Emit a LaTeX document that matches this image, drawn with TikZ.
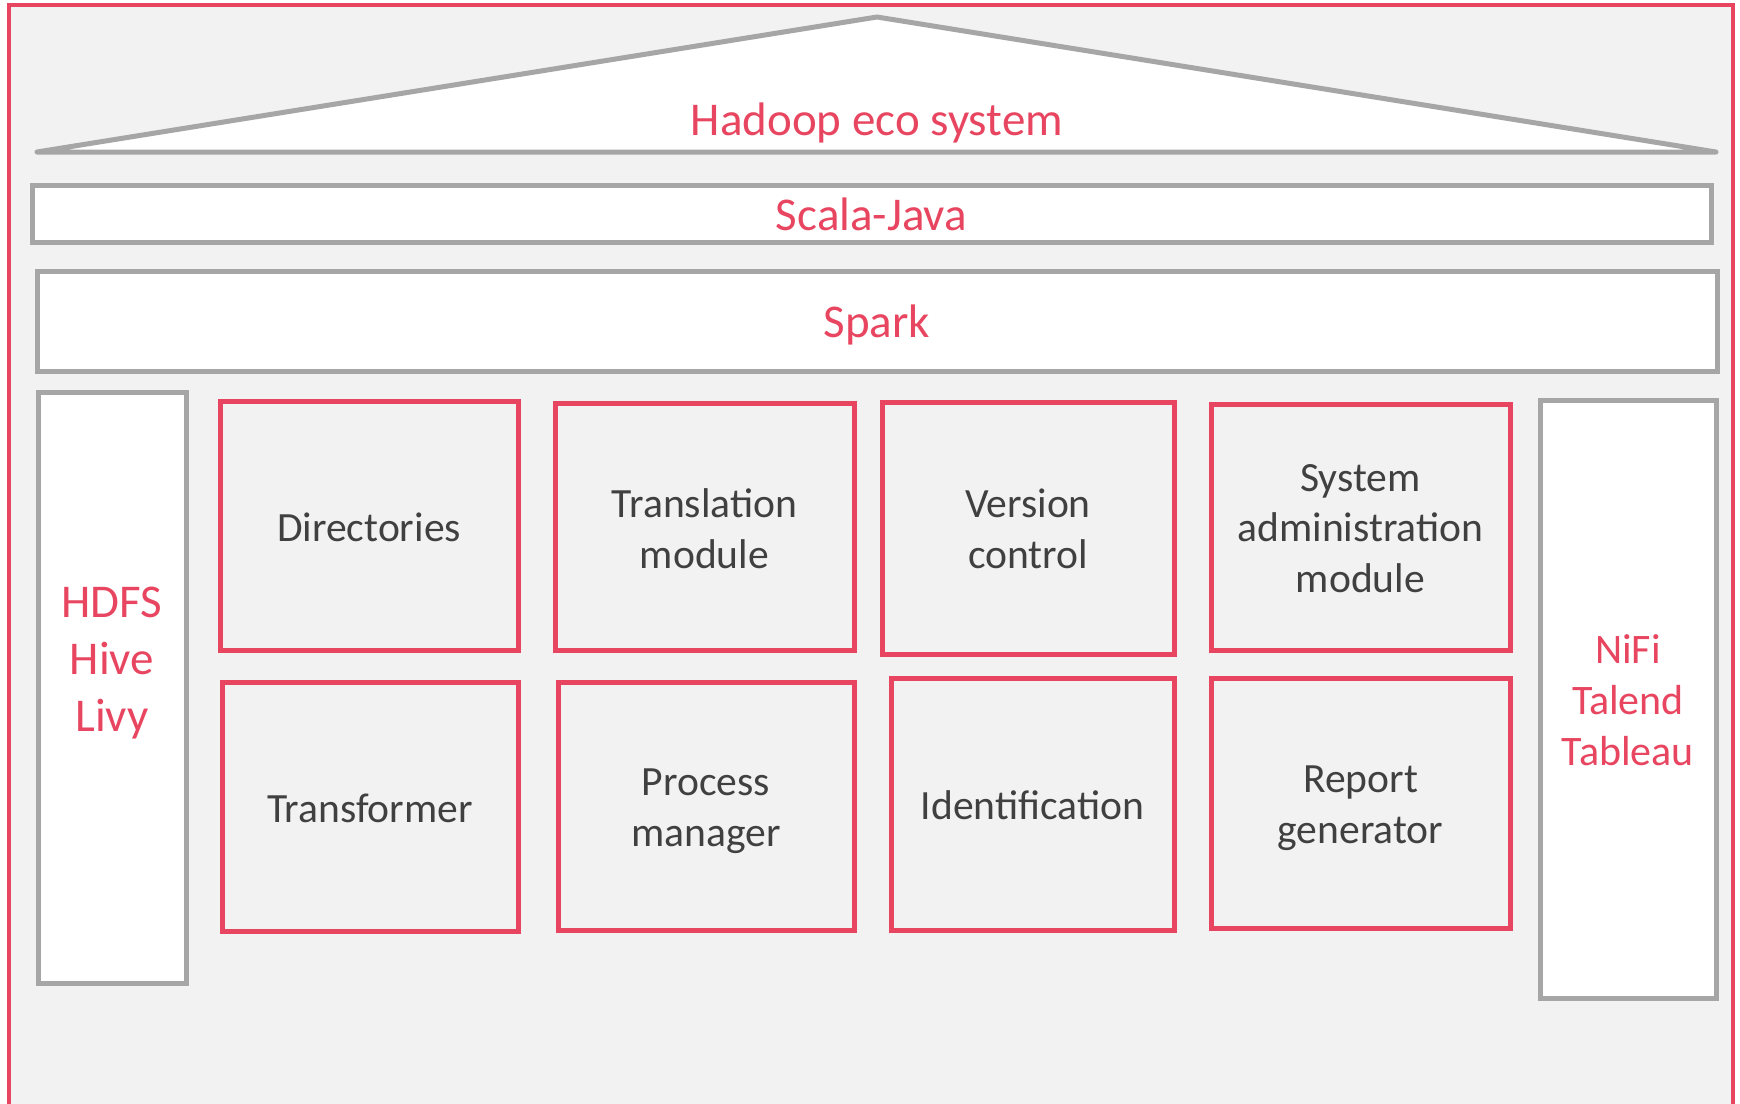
\documentclass[tikz,border=0pt]{standalone}
\usepackage{fontspec}
\setmainfont{Carlito}
\definecolor{hred}{HTML}{E84660}
\definecolor{hgray}{HTML}{A6A6A6}
\definecolor{hbg}{HTML}{F2F2F2}
\definecolor{htext}{HTML}{404040}
\tikzset{
  graybox/.style={draw=hgray, line width=5pt, fill=white, inner sep=0pt},
  redbox/.style={draw=hred, line width=5pt, fill=hbg, inner sep=0pt},
  boxtext/.style={text=htext, align=center, inner sep=0pt, font=\fontsize{41.6}{50.8}\selectfont},
  redtext/.style={text=hred, align=center, inner sep=0pt, font=\fontsize{47}{57}\selectfont},
  redtextsmall/.style={text=hred, align=center, inner sep=0pt, font=\fontsize{42}{51}\selectfont},
  frame/.style={draw=hred, line width=4.5pt, fill=hbg},
  roof/.style={draw=hgray, line width=5pt, fill=white, line join=round}
}
\begin{document}
\begin{tikzpicture}[x=1pt,y=-1pt]
\useasboundingbox (0,0) rectangle (1740,1103);
\clip (0,0) rectangle (1740,1103);
\fill[white] (0,0) rectangle (1740,1103);
% outer frame
\path[frame] (9,1130) -- (9,5) -- (1733,5) -- (1733,1130);
% roof
\draw[roof] (37,152) coordinate (roofL) -- (877,17) coordinate (roofT) -- (1716,152) coordinate (roofR) -- cycle;
\node[redtext] (hadoop) at (877,122.5) {Hadoop eco system};
% layers
\node[graybox, minimum width=1679pt, minimum height=57pt, label={[redtext, yshift=-1pt]center:Scala-Java}] (scala) at (871.5,213.5) {};
\node[graybox, minimum width=1680pt, minimum height=100pt, label={[redtext, yshift=-3.5pt]center:Spark}] (spark) at (877,321) {};
% side pillars
\node[graybox, minimum width=148pt, minimum height=591pt] (hdfs) at (112,687.5) {};
\node[redtext] (hdfstext) at (112,663.5) {HDFS\\Hive\\Livy};
\node[graybox, minimum width=176pt, minimum height=598pt] (nifi) at (1628,699) {};
\node[redtextsmall] (nifitext) at (1628,700) {NiFi\\Talend\\Tableau};
% modules
\node[redbox, minimum width=298pt, minimum height=249pt, label={[boxtext, yshift=-2pt]center:Directories}] (dir) at (369,525.5) {};
\node[redbox, minimum width=299pt, minimum height=247pt, label={[boxtext, yshift=-2pt]center:Translation\\module}] (trans) at (704.5,526.5) {};
\node[redbox, minimum width=292pt, minimum height=252pt, label={[boxtext, yshift=-0.5pt]center:Version\\control}] (vers) at (1028,528) {};
\node[redbox, minimum width=299pt, minimum height=246pt, label={[boxtext, yshift=-1.5pt]center:System\\administration\\module}] (sys) at (1360.5,527) {};
\node[redbox, minimum width=296pt, minimum height=249pt, label={[boxtext, yshift=-2pt]center:Transformer}] (transf) at (370,806.5) {};
\node[redbox, minimum width=296pt, minimum height=248pt, label={[boxtext, yshift=-5.5pt]center:Process\\manager}] (proc) at (706,806) {};
\node[redbox, minimum width=283pt, minimum height=252pt, label={[boxtext, yshift=-1pt]center:Identification}] (ident) at (1032.5,804) {};
\node[redbox, minimum width=299pt, minimum height=250pt, label={[boxtext, yshift=-5.5pt]center:Report\\generator}] (report) at (1360.5,803) {};
\end{tikzpicture}
\end{document}
